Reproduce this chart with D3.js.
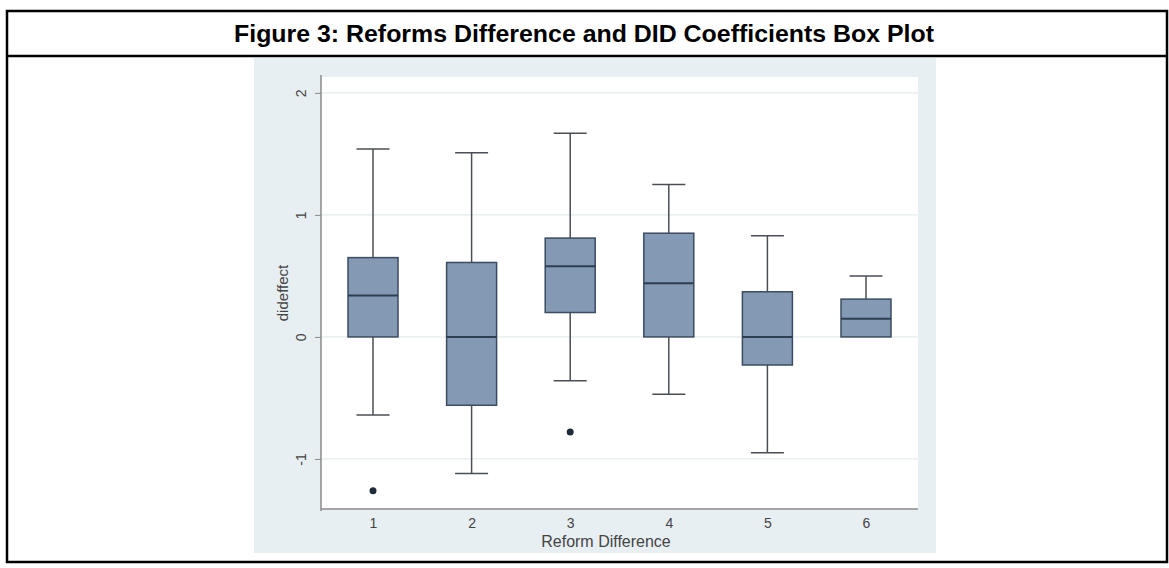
<!DOCTYPE html>
<html>
<head>
<meta charset="utf-8">
<script src="https://cdn.jsdelivr.net/npm/d3@7"></script>
<style>
  body { margin: 0; background: #fff; }
  svg { display: block; }
</style>
</head>
<body>
<div id="Canvas"></div>
<script>
// 資料
const groups = ["1", "2", "3", "4", "5", "6"]
const upperWhisker = [1.54, 1.51, 1.67, 1.25, 0.83, 0.50]
const q3 = [0.65, 0.61, 0.81, 0.85, 0.37, 0.31]
const median = [0.34, 0.00, 0.58, 0.44, 0.00, 0.15]
const q1 = [0.00, -0.56, 0.20, 0.00, -0.23, 0.00]
const lowerWhisker = [-0.64, -1.12, -0.36, -0.47, -0.95, 0.00]
const outlierGroup = ["1", "3"]
const outlierValue = [-1.26, -0.78]
const yTicks = [-1, 0, 1, 2]

const W = 1169, H = 568
const FONT = "Arial, 'Liberation Sans', sans-serif"

let svg = d3.select("#Canvas")
    .append("svg")
    .attr("width", W)
    .attr("height", H)

// 外框 + 標題列
svg.append("rect")
    .attr("x", 7).attr("y", 11)
    .attr("width", 1160).attr("height", 551)
    .attr("fill", "none").attr("stroke", "#000").attr("stroke-width", 2.5)
svg.append("line")
    .attr("x1", 7).attr("x2", 1167).attr("y1", 56).attr("y2", 56)
    .attr("stroke", "#000").attr("stroke-width", 2.5)
svg.append("text")
    .attr("x", 584).attr("y", 42)
    .attr("text-anchor", "middle")
    .attr("textLength", 700)
    .attr("lengthAdjust", "spacingAndGlyphs")
    .style("font-family", FONT)
    .style("font-weight", "bold")
    .style("font-size", "23px")
    .text("Figure 3: Reforms Difference and DID Coefficients Box Plot")

// Stata 灰色背景
svg.append("rect")
    .attr("x", 254).attr("y", 58)
    .attr("width", 682).attr("height", 495)
    .attr("fill", "#e8eff2")

const plot = { left: 321, right: 918, top: 77, bottom: 509 }
svg.append("rect")
    .attr("x", plot.left).attr("y", plot.top)
    .attr("width", plot.right - plot.left).attr("height", plot.bottom - plot.top)
    .attr("fill", "#fff")

let yScale = d3.scaleLinear()
    .domain([-1.41, 2.13])
    .range([plot.bottom, plot.top])
let xScale = d3.scalePoint()
    .domain(groups)
    .range([373, 866])

// 格線
svg.append("g")
    .selectAll("line")
    .data(yTicks)
    .enter()
    .append("line")
    .attr("x1", plot.left).attr("x2", plot.right)
    .attr("y1", d => yScale(d)).attr("y2", d => yScale(d))
    .attr("stroke", "#e4ebee").attr("stroke-width", 1.2)

// y 軸
let yAxis = svg.append("g")
    .attr("transform", `translate(${plot.left},0)`)
    .call(d3.axisLeft(yScale).tickValues(yTicks).tickSize(6).tickFormat(d3.format("d")))
yAxis.select(".domain").remove()
yAxis.selectAll(".tick line").attr("stroke", "#8a8a8a")
yAxis.selectAll(".tick text").remove()
yAxis.selectAll(".tick")
    .append("text")
    .attr("transform", "translate(-20,0) rotate(-90)")
    .attr("text-anchor", "middle")
    .attr("dy", "0.35em")
    .attr("fill", "#444")
    .style("font-family", FONT)
    .style("font-size", "14px")
    .text(d => d)
svg.append("line")
    .attr("x1", plot.left).attr("x2", plot.left)
    .attr("y1", plot.top - 2).attr("y2", plot.bottom + 2)
    .attr("stroke", "#8a8a8a").attr("stroke-width", 1.5)

// x 軸
let xAxis = svg.append("g")
    .attr("transform", `translate(0,${plot.bottom})`)
    .call(d3.axisBottom(xScale).tickSize(0).tickPadding(9))
xAxis.select(".domain").remove()
xAxis.selectAll(".tick text")
    .attr("fill", "#444")
    .style("font-family", FONT)
    .style("font-size", "14px")
svg.append("line")
    .attr("x1", plot.left).attr("x2", plot.right)
    .attr("y1", plot.bottom).attr("y2", plot.bottom)
    .attr("stroke", "#8a8a8a").attr("stroke-width", 1.5)

// 軸標題
svg.append("text")
    .attr("transform", `translate(288,${(plot.top + plot.bottom) / 2}) rotate(-90)`)
    .attr("text-anchor", "middle")
    .attr("fill", "#444")
    .style("font-family", FONT)
    .style("font-size", "15px")
    .text("dideffect")
svg.append("text")
    .attr("x", 606).attr("y", 547)
    .attr("text-anchor", "middle")
    .attr("fill", "#444")
    .style("font-family", FONT)
    .style("font-size", "16px")
    .text("Reform Difference")

// 盒鬚圖
let boxData = groups.map((g, i) => ({
    g: g, hi: upperWhisker[i], q3: q3[i], med: median[i], q1: q1[i], lo: lowerWhisker[i]
}))
const boxW = 50, capW = 33
let boxes = svg.append("g")
    .selectAll("g")
    .data(boxData)
    .enter()
    .append("g")

boxes.append("line")
    .attr("x1", d => xScale(d.g)).attr("x2", d => xScale(d.g))
    .attr("y1", d => yScale(d.hi)).attr("y2", d => yScale(d.q3))
    .attr("stroke", "#4a4f55").attr("stroke-width", 1.5)
boxes.append("line")
    .attr("x1", d => xScale(d.g)).attr("x2", d => xScale(d.g))
    .attr("y1", d => yScale(d.q1)).attr("y2", d => yScale(d.lo))
    .attr("stroke", "#4a4f55").attr("stroke-width", 1.5)
boxes.append("line")
    .attr("x1", d => xScale(d.g) - capW / 2).attr("x2", d => xScale(d.g) + capW / 2)
    .attr("y1", d => yScale(d.hi)).attr("y2", d => yScale(d.hi))
    .attr("stroke", "#4a4f55").attr("stroke-width", 1.5)
boxes.filter(d => d.lo < d.q1)
    .append("line")
    .attr("x1", d => xScale(d.g) - capW / 2).attr("x2", d => xScale(d.g) + capW / 2)
    .attr("y1", d => yScale(d.lo)).attr("y2", d => yScale(d.lo))
    .attr("stroke", "#4a4f55").attr("stroke-width", 1.5)
boxes.append("rect")
    .attr("x", d => xScale(d.g) - boxW / 2)
    .attr("y", d => yScale(d.q3))
    .attr("width", boxW)
    .attr("height", d => yScale(d.q1) - yScale(d.q3))
    .attr("fill", "#8399b4")
    .attr("stroke", "#3b4c60").attr("stroke-width", 1.5)
boxes.append("line")
    .attr("x1", d => xScale(d.g) - boxW / 2).attr("x2", d => xScale(d.g) + boxW / 2)
    .attr("y1", d => yScale(d.med)).attr("y2", d => yScale(d.med))
    .attr("stroke", "#2f3f52").attr("stroke-width", 2)

// 離群值
svg.append("g")
    .selectAll("circle")
    .data(outlierGroup.map((g, i) => ({ g: g, v: outlierValue[i] })))
    .enter()
    .append("circle")
    .attr("cx", d => xScale(d.g))
    .attr("cy", d => yScale(d.v))
    .attr("r", 3.5)
    .attr("fill", "#1d2b3a")
</script>
</body>
</html>
